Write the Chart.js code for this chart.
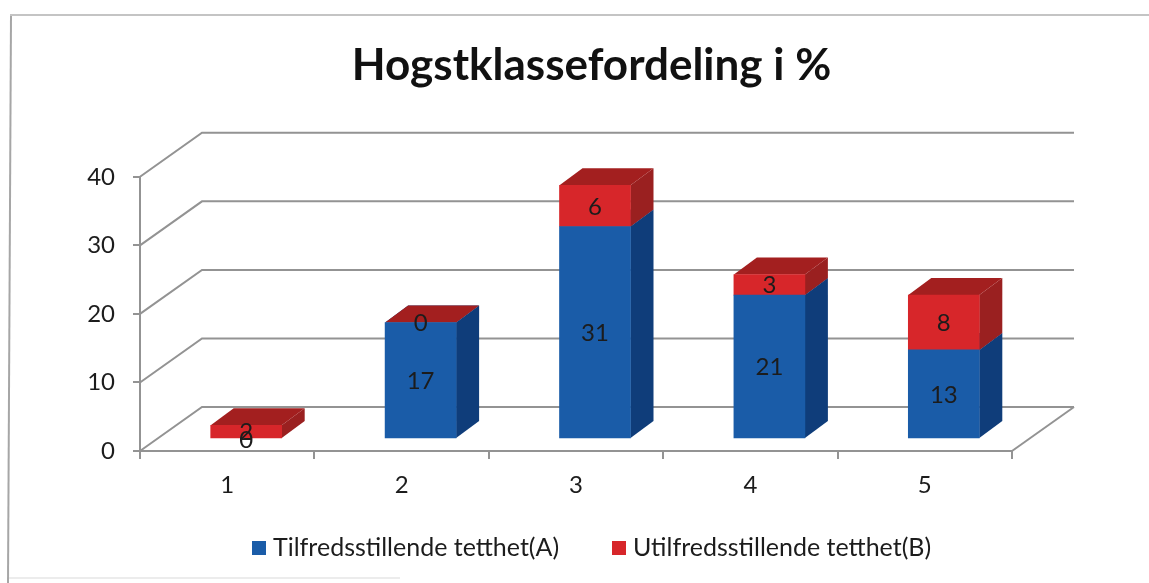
<!DOCTYPE html>
<html lang="no">
<head>
    <meta charset="UTF-8">
    <title>Hogstklassefordeling i %</title>
    <script src="https://cdn.jsdelivr.net/npm/chart.js@4"></script>
    <style>
        html, body { margin: 0; padding: 0; background: #fff; overflow: hidden; }
        canvas { display: block; }
    </style>
</head>
<body>
    <canvas id="grafica" width="1149" height="583"></canvas>
    <script>
// Data
const kategorier = ['1', '2', '3', '4', '5'];
const tilfredsstillende = [0, 17, 31, 21, 13];
const utilfredsstillende = [2, 0, 6, 3, 8];

const FONT = 'Lato, "Open Sans", sans-serif';
const GRID = '#939393';
const TEKST = '#1c1c1c';

// 3D offsets: back wall, bar placement on the floor, bar depth
const vegg = { x: 62, y: -44 };
const plass = { x: 19, y: -12 };
const dybde = { x: 23, y: -17 };
const farger = ['#1a5ca8', '#d7262a'];
const sider = [
  { side: '#0f3d7a', topp: '#12458a' },
  { side: '#9a2020', topp: '#a31f1f' }
];
// legend box x for each series, the library legend cannot hold this gap
const legendeX = [252, 612];

function flate(ctx, punkter, farge) {
  ctx.fillStyle = farge;
  ctx.beginPath();
  punkter.forEach((p, i) => i ? ctx.lineTo(p[0], p[1]) : ctx.moveTo(p[0], p[1]));
  ctx.closePath();
  ctx.fill();
}

// Frame of the scanned chart box
const ramme = {
  id: 'ramme',
  beforeDraw(chart) {
    const ctx = chart.ctx;
    ctx.save();
    ctx.lineWidth = 2;
    ctx.strokeStyle = '#a6a6a6';
    ctx.beginPath();
    ctx.moveTo(11, 15);
    ctx.lineTo(8, 583);
    ctx.stroke();
    ctx.strokeStyle = '#c4c4c4';
    ctx.beginPath();
    ctx.moveTo(10, 15);
    ctx.lineTo(1149, 15);
    ctx.stroke();
    ctx.strokeStyle = '#ececec';
    ctx.beginPath();
    ctx.moveTo(9, 578);
    ctx.lineTo(400, 578);
    ctx.stroke();
    ctx.restore();
  }
};

// Walls, floor and the side and top faces of the bars
const tredje = {
  id: 'tredje',
  beforeDatasetsDraw(chart) {
    const ctx = chart.ctx;
    const area = chart.chartArea;
    const y = chart.scales.y;
    ctx.save();
    ctx.strokeStyle = GRID;
    ctx.lineWidth = 2;
    y.ticks.forEach(t => {
      const py = y.getPixelForValue(t.value);
      ctx.beginPath();
      ctx.moveTo(area.left, py);
      ctx.lineTo(area.left + vegg.x, py + vegg.y);
      ctx.lineTo(area.right + vegg.x, py + vegg.y);
      ctx.stroke();
    });
    ctx.beginPath();
    ctx.moveTo(area.right, area.bottom);
    ctx.lineTo(area.right + vegg.x, area.bottom + vegg.y);
    ctx.stroke();

    chart.data.datasets.forEach((ds, i) => {
      chart.getDatasetMeta(i).data.forEach((bar, j) => {
        const x0 = bar.x - bar.width / 2 + plass.x;
        const x1 = bar.x + bar.width / 2 + plass.x;
        const t = bar.y + plass.y;
        const b = bar.base + plass.y;
        // an empty red segment still shows its top, an empty blue one nothing
        if (ds.data[j] > 0) {
          flate(ctx, [[x1, t], [x1 + dybde.x, t + dybde.y], [x1 + dybde.x, b + dybde.y], [x1, b]], sider[i].side);
        }
        if (ds.data[j] > 0 || i === 1) {
          flate(ctx, [[x0, t], [x1, t], [x1 + dybde.x, t + dybde.y], [x0 + dybde.x, t + dybde.y]], sider[i].topp);
        }
      });
    });
    ctx.restore();
  },
  // front faces are the library's own bars, moved out onto the floor
  beforeDatasetDraw(chart) {
    chart.ctx.save();
    chart.ctx.translate(plass.x, plass.y);
  },
  afterDatasetDraw(chart) {
    chart.ctx.restore();
  },
  afterDatasetsDraw(chart) {
    const ctx = chart.ctx;
    ctx.save();
    ctx.font = '24px ' + FONT;
    ctx.fillStyle = TEKST;
    ctx.textAlign = 'center';
    ctx.textBaseline = 'middle';
    chart.data.datasets.forEach((ds, i) => {
      chart.getDatasetMeta(i).data.forEach((bar, j) => {
        ctx.fillText(String(ds.data[j]), bar.x + plass.x, (bar.y + bar.base) / 2 + plass.y + 1);
      });
    });
    ctx.restore();
  }
};

const legende = {
  id: 'legende',
  afterDraw(chart) {
    const ctx = chart.ctx;
    ctx.save();
    ctx.font = '25px ' + FONT;
    ctx.textBaseline = 'middle';
    chart.data.datasets.forEach((ds, i) => {
      ctx.fillStyle = farger[i];
      ctx.fillRect(legendeX[i], 541, 14, 14);
      ctx.fillStyle = TEKST;
      ctx.fillText(ds.label, legendeX[i] + 21, 548);
    });
    ctx.restore();
  }
};

function barFarge(i) {
  return c => (c.raw === 0 ? 'transparent' : farger[i]);
}

new Chart(document.getElementById('grafica'), {
  type: 'bar',
  data: {
    labels: kategorier,
    datasets: [
      { label: 'Tilfredsstillende tetthet(A)', data: tilfredsstillende, backgroundColor: barFarge(0), barThickness: 71 },
      { label: 'Utilfredsstillende tetthet(B)', data: utilfredsstillende, backgroundColor: barFarge(1), barThickness: 71 }
    ]
  },
  options: {
    responsive: false,
    animation: false,
    layout: { padding: { left: 34, right: 0, top: 0, bottom: 0 } },
    plugins: {
      tooltip: { enabled: false },
      legend: { display: false },
      title: {
        display: true,
        text: 'Hogstklassefordeling i %',
        color: '#111',
        font: { family: FONT, size: 44, weight: 'bold', lineHeight: 1.2 },
        padding: { top: 39, bottom: 85 }
      }
    },
    scales: {
      x: {
        stacked: true,
        offset: true,
        grid: { drawOnChartArea: false, color: GRID, lineWidth: 2, tickLength: 8, offset: true },
        border: { color: GRID, width: 2 },
        ticks: { color: TEKST, font: { family: FONT, size: 24 }, padding: 12, maxRotation: 0 },
        afterFit: s => { s.height = 132; }
      },
      y: {
        stacked: true,
        min: 0,
        max: 40,
        grid: { drawOnChartArea: false, color: GRID, lineWidth: 2, tickLength: 7 },
        border: { color: GRID, width: 2 },
        ticks: { stepSize: 10, color: TEKST, font: { family: FONT, size: 24 }, padding: 18 },
        afterFit: s => { s.width = 106; }
      },
      // empty axis only keeps the room right of the plot
      hoyre: {
        position: 'right',
        grid: { display: false },
        border: { display: false },
        ticks: { display: false },
        afterFit: s => { s.width = 137; }
      }
    }
  },
  plugins: [ramme, tredje, legende]
});
    </script>
</body>
</html>
